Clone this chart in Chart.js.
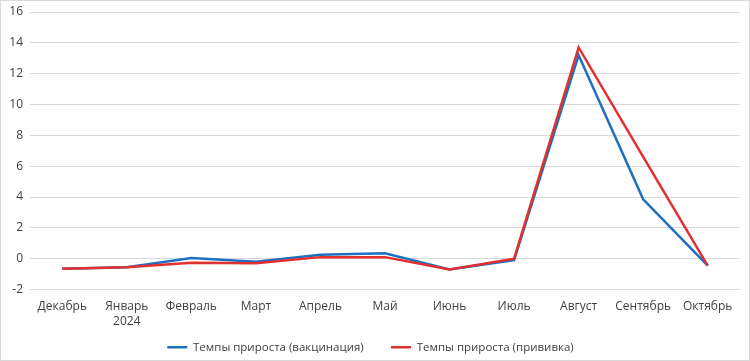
<!DOCTYPE html>
<html>
<head>
<meta charset="utf-8">
<script src="https://cdn.jsdelivr.net/npm/chart.js@4/dist/chart.umd.min.js"></script>
<style>
  html, body { margin: 0; padding: 0; background: #fff; }
  #wrap {
    width: 750px; height: 361px; box-sizing: border-box;
    border: 1px solid #d9d9d9; position: relative;
  }
  canvas { display: block; }
</style>
</head>
<body>
<div id="wrap"><canvas id="chart" width="748" height="359"></canvas></div>
<script>
// Темпы прироста: вакцинация vs прививка, Декабрь 2023 – Октябрь 2024
const months = ["Декабрь", ["Январь", "2024"], "Февраль", "Март", "Апрель", "Май", "Июнь", "Июль", "Август", "Сентябрь", "Октябрь"];
const vaccination = [-0.65, -0.55, 0.05, -0.2, 0.25, 0.35, -0.7, -0.1, 13.2, 3.85, -0.45];
const privivka = [-0.65, -0.55, -0.27, -0.3, 0.1, 0.1, -0.7, 0.0, 13.7, 6.6, -0.45];
const yMin = -2, yMax = 16, yStep = 2;

const FONT = "'Open Sans', 'Noto Sans', sans-serif";
const BLUE = "#1f6fc0";
const RED = "#e2302f";

new Chart(document.getElementById("chart").getContext("2d"), {
  type: "line",
  data: {
    labels: months,
    datasets: [
      {
        label: "Темпы прироста (вакцинация)",
        data: vaccination,
        borderColor: BLUE,
        backgroundColor: BLUE,
        borderWidth: 2.5,
        pointRadius: 0,
        tension: 0,
        order: 2,
      },
      {
        label: "Темпы прироста (прививка)",
        data: privivka,
        borderColor: RED,
        backgroundColor: RED,
        borderWidth: 2.5,
        pointRadius: 0,
        tension: 0,
        order: 1,
      },
    ],
  },
  options: {
    responsive: false,
    animation: false,
    layout: { padding: { top: 11, right: 9, bottom: -3, left: 0 } },
    plugins: {
      tooltip: { enabled: false },
      legend: {
        position: "bottom",
        labels: {
          usePointStyle: true,
          pointStyle: "line",
          pointStyleWidth: 20,
          color: "#404040",
          font: { family: FONT, size: 11.5 },
          padding: 10,
          sort: (a, b) => a.datasetIndex - b.datasetIndex,
          generateLabels: (chart) => {
            const items = Chart.defaults.plugins.legend.labels.generateLabels(chart);
            // a bit of air between the two entries, like the original
            items.forEach((it) => { if (it.datasetIndex === 0) it.text += "\u2003\u2002"; });
            return items;
          },
        },
      },
    },
    scales: {
      x: {
        offset: true,
        afterFit: (s) => { s.height = 42; },
        grid: { display: false },
        border: { display: false },
        ticks: {
          color: "#404040",
          font: { family: FONT, size: 12 },
          maxRotation: 0,
          autoSkip: false,
          padding: 2,
        },
      },
      y: {
        min: yMin,
        max: yMax,
        afterFit: (s) => { s.width = 29; s.paddingTop = 0; },
        grid: { color: "#d9d9d9", lineWidth: 1, drawTicks: false },
        border: { display: false },
        ticks: {
          stepSize: yStep,
          color: "#404040",
          font: { family: FONT, size: 12 },
          padding: 7,
        },
      },
    },
  },
});
</script>
</body>
</html>
